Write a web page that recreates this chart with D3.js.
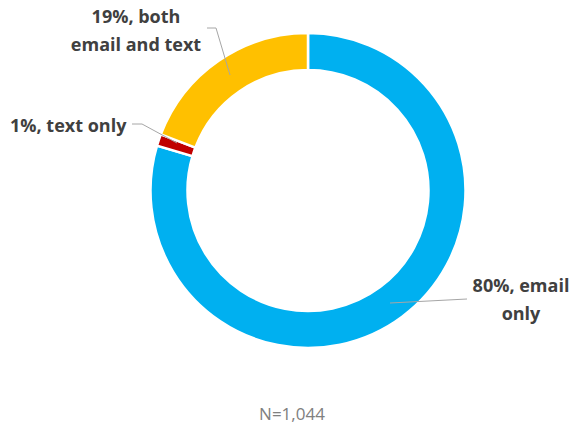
<!DOCTYPE html>
<html><head><meta charset="utf-8">
<script src="https://cdn.jsdelivr.net/npm/d3@7"></script>
<style>body{margin:0;background:#fff}svg{display:block}</style>
</head><body>
<script>
const categories = ["email only", "text only", "both email and text"];
const values = [79.6, 1.2, 19.2];
const labelLines = [["80%, email", "only"], ["1%, text only"], ["19%, both", "email and text"]];
const colors = ["#00B0F0", "#C00000", "#FFC000"];
const footnote = "N=1,044";

const W = 574, H = 429, cx = 308, cy = 190.5, rOut = 157.5, rIn = 120.5;
const svg = d3.select("body").append("svg").attr("width", W).attr("height", H);
const g = svg.append("g").attr("transform", `translate(${cx},${cy})`);
const pie = d3.pie().sort(null).value(d => d);
const arc = d3.arc().innerRadius(rIn).outerRadius(rOut);
const arcs = pie(values);
g.selectAll("path").data(arcs).join("path")
  .attr("d", arc).attr("fill", (d, i) => colors[i])
  .attr("stroke", "#fff").attr("stroke-width", 2.5);

// leader lines (label anchor -> slice point)
const leaders = [
  [[467, 299], [390, 303]],
  [[132, 124], [142, 124], [177, 143]],
  [[207, 28], [216, 28], [230, 75]]
];
svg.selectAll("path.leader").data(leaders).join("path")
  .attr("class", "leader")
  .attr("d", d => d3.line()(d))
  .attr("fill", "none").attr("stroke", "#A6A6A6").attr("stroke-width", 1);

const labelPos = [
  {x: 521, y: 292, anchor: "middle"},
  {x: 10, y: 132, anchor: "start"},
  {x: 136, y: 23, anchor: "middle"}
];
labelLines.forEach((lines, i) => {
  const p = labelPos[i];
  const t = svg.append("text")
    .attr("font-family", "'Open Sans', sans-serif")
    .attr("font-weight", "bold").attr("font-size", 18)
    .attr("fill", "#404040").attr("text-anchor", p.anchor);
  lines.forEach((s, j) => t.append("tspan").attr("x", p.x).attr("y", p.y + j * 27.5).text(s));
});

svg.append("text").attr("x", 292).attr("y", 420).attr("text-anchor", "middle")
  .attr("font-family", "'Open Sans', sans-serif").attr("font-size", 17)
  .attr("fill", "#808080").text(footnote);
</script>
</body></html>
